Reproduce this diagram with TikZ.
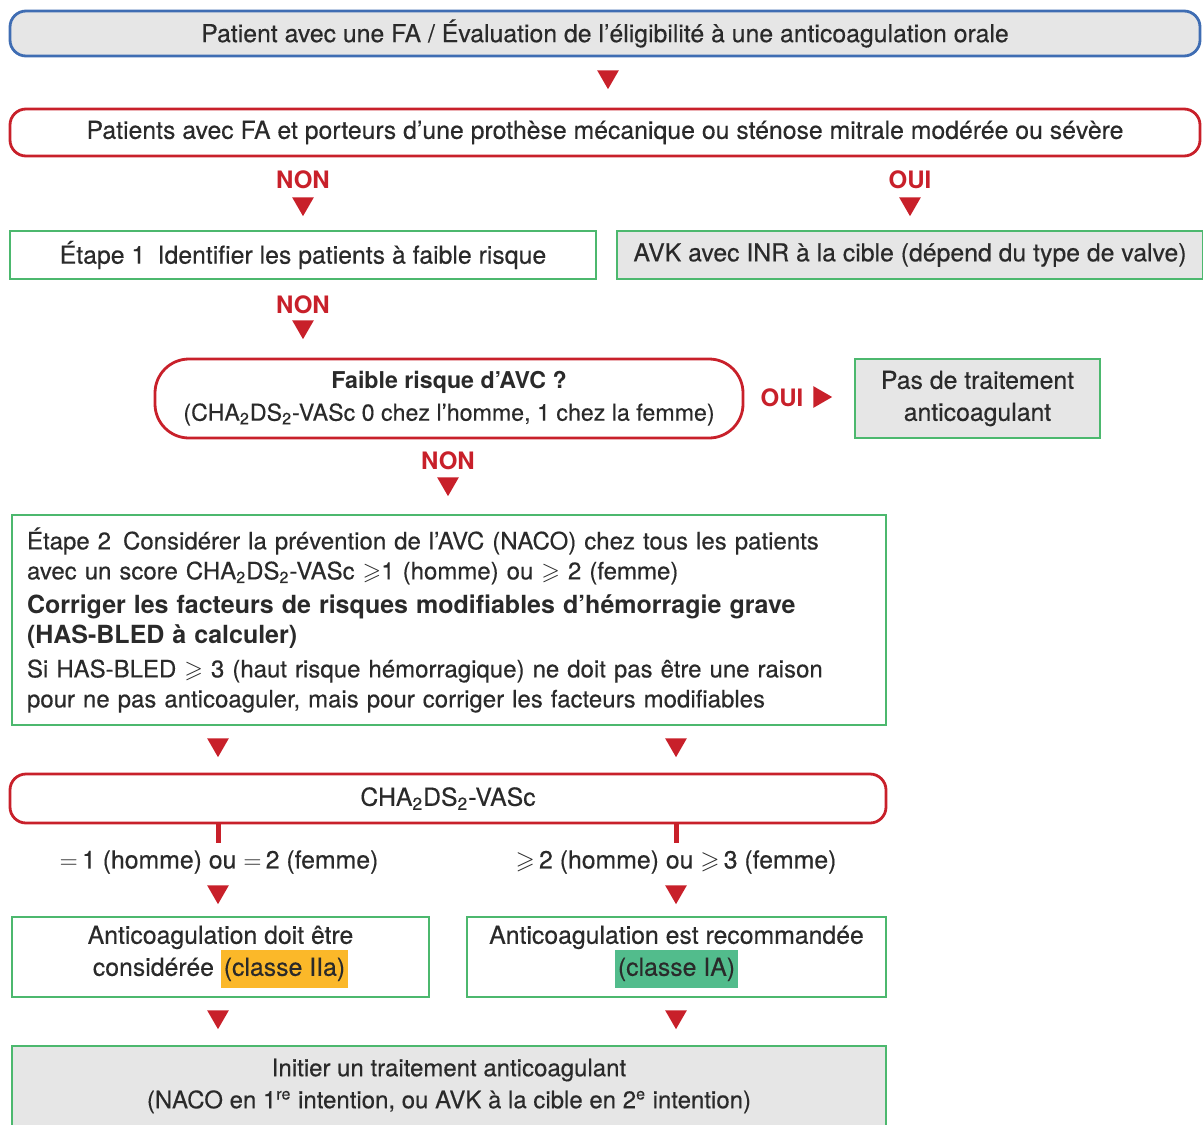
\documentclass[tikz,border=0pt]{standalone}
\usepackage{fontspec}
\usepackage{amssymb}
\usepackage{tikz}
\setmainfont{TeX Gyre Heros}[UprightFeatures={FakeBold=0.35}]
\usetikzlibrary{shapes.geometric,positioning}

\definecolor{rougefa}{HTML}{C8202A}
\definecolor{vertfa}{HTML}{4CB86E}
\definecolor{bleufa}{HTML}{3F6DB3}
\definecolor{grisfa}{HTML}{E6E6E6}
\definecolor{textefa}{HTML}{2A2A2A}
\definecolor{orangefa}{HTML}{FBB829}
\definecolor{vertcl}{HTML}{52BC8C}

\newcommand{\chads}{CHA\textsubscript{2}DS\textsubscript{2}-VASc}
\newcommand{\surligne}[2]{{\setlength{\fboxsep}{1.5pt}\colorbox{#1}{\strut#2}}}

\begin{document}
\begin{tikzpicture}[x=0.5pt,y=-0.5pt,
    every node/.style={text=textefa,font=\fontsize{12.4}{16}\selectfont},
    cadre/.style={draw=vertfa,line width=1pt,inner sep=0pt,align=center},
    cadregris/.style={cadre,fill=grisfa},
    arrondi/.style={draw=rougefa,line width=1.4pt,rounded corners=8pt,inner sep=0pt,align=center},
    fleche/.style={regular polygon,regular polygon sides=3,shape border rotate=180,
        fill=rougefa,inner sep=0pt,minimum size=12.5pt,anchor=north},
    reponse/.style={text=rougefa,font=\fontsize{12}{14}\selectfont\bfseries},
    tige/.style={draw=rougefa,line width=2.5pt}]
    \useasboundingbox (0,0) rectangle (1203,1124);

    \node (patient) [draw=bleufa,fill=grisfa,line width=1.4pt,rounded corners=8pt,
        minimum width=595pt,minimum height=22.5pt] at (605,33.5)
        {Patient avec une FA / Évaluation de l’éligibilité à une anticoagulation orale};
    \node (f0) [fleche] at (608,70) {};

    \node (valve) [arrondi,minimum width=595pt,minimum height=23.5pt] at (605,132.5)
        {Patients avec FA et porteurs d’une prothèse mécanique ou sténose mitrale modérée ou sévère};

    \node (non1) [reponse] at (303,180) {NON};
    \node (f1) [fleche] at (303,197) {};
    \node (oui1) [reponse] at (910,180) {OUI};
    \node (f2) [fleche] at (910,197) {};

    \node (etape1) [cadre,minimum width=293pt,minimum height=24pt] at (303,255)
        {Étape 1\enspace Identifier les patients à faible risque};
    \node (avk) [cadregris,minimum width=293pt,minimum height=24pt] at (910,255)
        {AVK avec INR à la cible (dépend du type de valve)};

    \node (non2) [reponse] at (303,305) {NON};
    \node (f3) [fleche] at (303,320) {};

    \node (faible) [arrondi,rounded corners=17pt,minimum width=294pt,minimum height=39.5pt,
        font=\fontsize{11.6}{16}\selectfont] at (449,398.5)
        {\textbf{Faible risque d’AVC ?}\\(\chads{} 0 chez l’homme, 1 chez la femme)};
    \node (oui2) [reponse] at (782,398) {OUI};
    \node (f4) [fleche,shape border rotate=-90,anchor=west] at (813,397) {};
    \node (pastt) [cadregris,minimum width=122.5pt,minimum height=39.5pt] at (977.5,398.5)
        {Pas de traitement\\anticoagulant};

    \node (non3) [reponse] at (448,461) {NON};
    \node (f5) [fleche] at (448,477) {};

    \node (etape2) [cadre,minimum width=437pt,minimum height=105pt,text width=422pt,align=left,
        font=\fontsize{12}{15}\selectfont] at (449,620)
        {Étape 2\enspace Considérer la prévention de l’AVC (NACO) chez tous les patients\\
        avec un score \chads{} $\geqslant$1 (homme) ou $\geqslant$ 2 (femme)\\[2pt]
        \textbf{\fontsize{12.5}{15}\selectfont Corriger les facteurs de risques modifiables d’hémorragie grave}\\
        \textbf{\fontsize{12.5}{15}\selectfont (HAS-BLED à calculer)}\\[2pt]
        Si HAS-BLED $\geqslant$ 3 (haut risque hémorragique) ne doit pas être une raison\\
        pour ne pas anticoaguler, mais pour corriger les facteurs modifiables};

    \node (fa1) [fleche] at (218,738) {};
    \node (fb1) [fleche] at (676,738) {};

    \node (score) [arrondi,minimum width=438pt,minimum height=24.5pt] at (448,798.5) {\chads};
    \coordinate (ta) at (218,843);
    \coordinate (tb) at (676,843);
    \draw[tige] (ta |- score.south) -- (ta);
    \draw[tige] (tb |- score.south) -- (tb);

    \node (bas) at (219,862) {$=$\,1 (homme) ou $=$\,2 (femme)};
    \node (haut) at (676,862) {$\geqslant$\,2 (homme) ou $\geqslant$\,3 (femme)};

    \node (fa2) [fleche] at (218,885) {};
    \node (fb2) [fleche] at (676,885) {};

    \node (classe2) [cadre,minimum width=208.5pt,minimum height=40pt] at (220.5,957)
        {Anticoagulation doit être\\considérée \surligne{orangefa}{(classe IIa)}};
    \node (classe1) [cadre,minimum width=209.5pt,minimum height=40pt] at (676.5,957)
        {Anticoagulation est recommandée\\\surligne{vertcl}{(classe IA)}};

    \node (fa3) [fleche] at (218,1010) {};
    \node (fb3) [fleche] at (676,1010) {};

    \node (initier) [cadregris,minimum width=437pt,minimum height=40pt,
        font=\fontsize{12}{16}\selectfont] at (449,1086)
        {Initier un traitement anticoagulant\\(NACO en 1\textsuperscript{re} intention, ou AVK à la cible en 2\textsuperscript{e} intention)};
\end{tikzpicture}
\end{document}
